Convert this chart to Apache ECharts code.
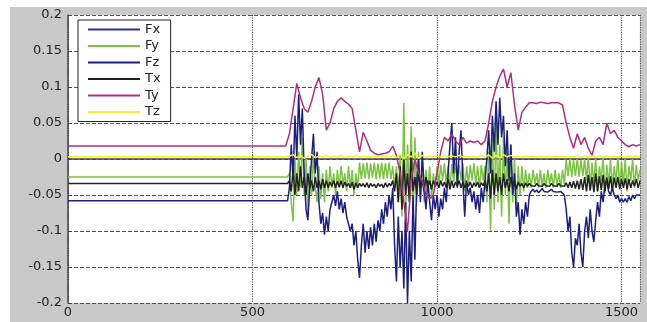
<!DOCTYPE html>
<html><head><meta charset="utf-8">
<script src="https://cdn.jsdelivr.net/npm/echarts@6/dist/echarts.min.js"></script>
<style>
html,body{margin:0;padding:0;background:#fff}
#wrap{position:relative;width:647px;height:322px;overflow:hidden}
#bg{position:absolute;left:10px;top:7px;width:637px;height:315px;background:#c9c9c9}
#c{position:absolute;left:0;top:0;width:647px;height:322px}
</style>
</head><body><div id="wrap"><div id="bg"></div><div id="c"></div></div>
<script>
// sample times (x-axis units)
const t5 = []; for (let x = 600; x <= 1550; x += 5) t5.push(x);
const t10 = []; for (let x = 590; x <= 1550; x += 10) t10.push(x);
const xTicks = [0, 500, 1000, 1500];
const names = ['Fx','Fy','Fz','Tx','Ty','Tz'];

// values before the disturbance (0 .. 595)
const fyPre = -0.025, fzPre = -0.058, txPre = -0.034;

// Fy, Fz, Tx sampled every 5 units from 600 to 1550
const fy = [
 -0.02,-0.06,-0.087,0.0,-0.05,0.01,-0.04,0.03,-0.05,0.0,-0.075,-0.01,-0.05,0.01,-0.04,-0.06,-0.01,-0.055,-0.02,-0.06,
 -0.015,-0.045,-0.01,-0.04,-0.02,-0.05,-0.015,-0.04,-0.01,-0.035,-0.02,-0.045,-0.01,-0.04,-0.015,-0.05,-0.02,-0.04,-0.005,-0.028,
 -0.006,-0.027,-0.005,-0.028,-0.006,-0.026,-0.005,-0.028,-0.006,-0.027,-0.005,-0.028,-0.006,-0.027,-0.005,-0.028,-0.01,-0.04,-0.01,-0.06,
 0.005,-0.08,0.078,-0.07,0.02,-0.05,0.045,-0.09,0.03,-0.06,0.01,-0.05,-0.01,-0.06,-0.015,-0.045,-0.01,-0.055,-0.02,-0.04,
 -0.01,-0.035,-0.008,-0.03,-0.006,-0.035,-0.01,-0.04,-0.007,-0.032,-0.005,-0.035,-0.008,-0.03,-0.006,-0.045,-0.01,-0.035,-0.008,-0.03,
 -0.006,-0.035,-0.01,-0.04,-0.008,-0.03,-0.01,-0.06,0.01,-0.1,0.03,-0.07,0.057,-0.06,0.02,-0.08,0.03,-0.05,0.01,-0.09,
 0.02,-0.06,0.0,-0.07,-0.01,-0.05,-0.01,-0.045,-0.015,-0.04,-0.02,-0.04,-0.015,-0.035,-0.02,-0.04,-0.015,-0.038,-0.02,-0.04,
 -0.015,-0.035,-0.02,-0.04,-0.015,-0.038,-0.02,-0.04,-0.015,-0.035,-0.001,-0.024,0.0,-0.025,-0.001,-0.024,0.0,-0.025,-0.001,-0.024,
 0.0,-0.03,0.003,-0.04,-0.005,-0.035,0.0,-0.045,-0.01,-0.03,0.002,-0.047,-0.008,-0.035,0.0,-0.04,-0.01,-0.033,0.003,-0.04,
 -0.005,-0.035,0.0,-0.045,-0.01,-0.03,0.0,-0.04,-0.008,-0.03,-0.015
];
const fz = [
 -0.04,0.02,-0.03,0.06,0.0,0.09,0.02,0.07,-0.02,-0.07,-0.085,-0.04,0.0,0.035,-0.02,0.01,-0.06,-0.09,-0.075,-0.105,
 -0.08,-0.1,-0.07,-0.06,-0.05,-0.065,-0.045,-0.07,-0.055,-0.075,-0.06,-0.08,-0.08,-0.1,-0.09,-0.12,-0.1,-0.14,-0.165,-0.12,
 -0.09,-0.13,-0.1,-0.125,-0.095,-0.12,-0.09,-0.115,-0.085,-0.1,-0.07,-0.09,-0.06,-0.08,-0.05,-0.07,-0.04,-0.12,-0.17,-0.08,
 -0.15,-0.1,-0.18,-0.06,-0.2,-0.1,-0.17,-0.05,-0.14,-0.03,0.0,-0.06,0.01,-0.04,-0.07,-0.03,-0.06,-0.085,-0.05,-0.07,
 -0.05,-0.08,-0.055,-0.07,-0.04,-0.06,-0.02,0.02,0.05,-0.02,0.03,-0.04,0.01,0.04,-0.03,-0.08,-0.03,-0.05,-0.04,-0.06,
 -0.045,-0.07,-0.05,-0.075,-0.04,-0.06,-0.03,0.0,0.04,-0.02,0.06,0.01,0.08,0.02,0.085,0.03,0.06,-0.01,0.04,-0.03,
 0.02,-0.05,-0.02,-0.08,-0.06,-0.105,-0.07,-0.09,-0.06,-0.08,-0.05,-0.045,-0.042,-0.046,-0.043,-0.047,-0.044,-0.041,-0.045,-0.043,
 -0.046,-0.044,-0.042,-0.045,-0.043,-0.046,-0.044,-0.045,-0.047,-0.05,-0.07,-0.1,-0.08,-0.13,-0.15,-0.11,-0.12,-0.09,-0.13,-0.15,
 -0.1,-0.08,-0.11,-0.07,-0.1,-0.115,-0.085,-0.06,-0.08,-0.045,-0.06,-0.035,-0.03,-0.045,-0.05,-0.04,-0.05,-0.055,-0.05,-0.06,
 -0.055,-0.06,-0.055,-0.06,-0.052,-0.058,-0.05,-0.055,-0.05,-0.052,-0.05
];
const tx = [
 -0.03,-0.045,-0.015,-0.05,-0.02,-0.045,-0.01,-0.04,-0.025,-0.05,-0.02,-0.04,-0.03,-0.045,-0.025,-0.04,-0.03,-0.042,-0.028,-0.04,
 -0.03,-0.04,-0.032,-0.038,-0.03,-0.04,-0.031,-0.039,-0.03,-0.04,-0.032,-0.038,-0.034,-0.04,-0.032,-0.042,-0.033,-0.04,-0.034,-0.038,
 -0.034,-0.039,-0.033,-0.04,-0.034,-0.038,-0.035,-0.04,-0.034,-0.038,-0.035,-0.04,-0.033,-0.039,-0.034,-0.037,-0.03,-0.045,-0.02,-0.06,
 -0.01,-0.07,0.0,-0.05,-0.02,-0.06,0.01,-0.045,-0.025,-0.05,-0.02,-0.04,-0.03,-0.045,-0.025,-0.04,-0.03,-0.042,-0.03,-0.038,
 -0.032,-0.04,-0.03,-0.038,-0.032,-0.04,-0.028,-0.042,-0.03,-0.04,-0.032,-0.038,-0.03,-0.04,-0.032,-0.04,-0.033,-0.038,-0.032,-0.04,
 -0.033,-0.038,-0.032,-0.04,-0.033,-0.037,-0.03,-0.045,-0.02,-0.055,-0.015,-0.05,-0.02,-0.045,-0.025,-0.05,-0.02,-0.04,-0.028,-0.045,
 -0.025,-0.04,-0.03,-0.042,-0.032,-0.038,-0.034,-0.04,-0.033,-0.038,-0.034,-0.037,-0.035,-0.038,-0.034,-0.037,-0.035,-0.038,-0.034,-0.037,
 -0.035,-0.038,-0.034,-0.037,-0.035,-0.038,-0.034,-0.037,-0.035,-0.038,-0.033,-0.04,-0.032,-0.04,-0.031,-0.041,-0.03,-0.042,-0.028,-0.043,
 -0.025,-0.045,-0.022,-0.044,-0.025,-0.046,-0.02,-0.045,-0.024,-0.043,-0.022,-0.045,-0.026,-0.042,-0.024,-0.044,-0.026,-0.04,-0.025,-0.042,
 -0.028,-0.04,-0.027,-0.042,-0.028,-0.04,-0.03,-0.038,-0.028,-0.04,-0.03
];
// Ty, Tz sampled every 10 units from 590 to 1550
const ty = [
 0.018,0.035,0.07,0.105,0.085,0.07,0.065,0.08,0.1,0.113,
 0.09,0.04,0.05,0.07,0.08,0.085,0.08,0.076,0.07,0.04,
 0.01,0.037,0.025,0.012,0.008,0.006,0.007,0.008,0.01,0.018,
 0.005,-0.02,-0.06,-0.1,-0.03,0.0,-0.02,-0.03,-0.05,-0.055,
 -0.05,-0.02,0.01,0.03,0.025,0.035,0.025,0.02,0.03,0.022,
 0.025,0.023,0.025,0.02,0.025,0.05,0.08,0.1,0.115,0.125,
 0.1,0.12,0.075,0.04,0.065,0.072,0.078,0.078,0.077,0.079,
 0.078,0.077,0.078,0.078,0.078,0.075,0.05,0.03,0.015,0.035,
 0.02,0.03,0.015,0.005,0.025,0.03,0.02,0.05,0.035,0.04,
 0.03,0.025,0.02,0.017,0.02,0.018,0.02
];
const tz = [
 0.003,0.004,0.006,0.002,0.005,0.001,0.004,0.006,0.002,0.004,
 0.003,0.005,0.002,0.004,0.003,0.005,0.002,0.004,0.003,0.005,
 0.003,0.004,0.003,0.004,0.003,0.004,0.003,0.004,0.003,0.005,
 0.002,0.007,0.0,0.006,0.003,0.008,0.001,0.005,0.002,0.004,
 0.003,0.004,0.003,0.005,0.003,0.004,0.003,0.005,0.003,0.004,
 0.003,0.004,0.003,0.005,0.002,0.006,0.001,0.005,0.002,0.006,
 0.003,0.005,0.003,0.004,0.003,0.004,0.003,0.004,0.003,0.004,
 0.003,0.004,0.003,0.004,0.003,0.004,0.003,0.004,0.003,0.005,
 0.002,0.005,0.003,0.004,0.002,0.005,0.003,0.004,0.003,0.004,
 0.003,0.004,0.003,0.004,0.003,0.004,0.003
];

function build(pre, t, vals) {
  const d = [];
  if (pre !== null) { d.push([0, pre]); d.push([595, pre]); }
  else { d.push([0, vals[0]]); }
  for (let i = 0; i < t.length; i++) d.push([t[i], vals[i]]);
  return d;
}

const colors = {Fx:'#2e3192', Fy:'#7dc242', Fz:'#1c1f80', Tx:'#222222', Ty:'#b0307e', Tz:'#f2ee3a'};
const lineW = 1.5;
function ser(name, data) {
  return {name, type:'line', data, symbol:'none', showSymbol:false, animation:false,
    lineStyle:{width:lineW, color:colors[name]}, itemStyle:{color:colors[name]}};
}

const chart = echarts.init(document.getElementById('c'), null, {renderer:'canvas'});
const font = 'DejaVu Sans';
chart.setOption({
  animation:false,
  backgroundColor:'transparent',
  grid:{left:68, right:7, top:15, bottom:19, show:true, backgroundColor:'#ffffff', borderWidth:0},
  legend:{
    left:78, top:20, orient:'vertical', data:names,
    backgroundColor:'#ffffff', borderColor:'#222', borderWidth:1,
    padding:[3,10,3,10], itemWidth:52, itemHeight:2, itemGap:3.5, icon:'rect',
    textStyle:{fontFamily:font, fontSize:13, color:'#222'}
  },
  xAxis:{type:'value', min:0, max:1550, interval:500,
    axisLine:{show:true, lineStyle:{color:'#444', width:1.5}},
    axisTick:{show:true, inside:true, length:4, lineStyle:{color:'#444'}},
    axisLabel:{fontFamily:font, fontSize:13, color:'#222', margin:3, showMaxLabel:false,
      formatter:v => xTicks.indexOf(v) >= 0 ? String(v) : ''},
    splitLine:{show:true, lineStyle:{color:'#555555', type:'dotted', width:1.2}}},
  yAxis:{type:'value', min:-0.2, max:0.2, interval:0.05,
    axisLine:{show:true, lineStyle:{color:'#444', width:1.5}},
    axisTick:{show:true, inside:true, length:4, lineStyle:{color:'#444'}},
    axisLabel:{fontFamily:font, fontSize:13, color:'#222', margin:6},
    splitLine:{show:true, lineStyle:{color:'#555555', type:'dashed', width:1}}},
  series:[
    ser('Fx', []),
    ser('Fy', build(fyPre, t5, fy)),
    ser('Fz', build(fzPre, t5, fz)),
    ser('Tx', build(txPre, t5, tx)),
    ser('Ty', build(null, t10, ty)),
    ser('Tz', build(null, t10, tz))
  ]
});
</script></body></html>
